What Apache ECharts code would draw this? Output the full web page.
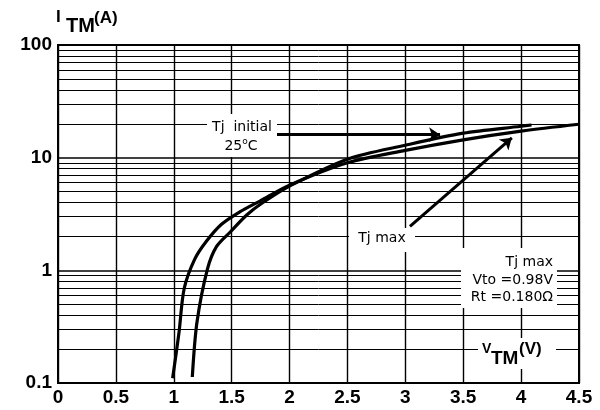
<!DOCTYPE html>
<html><head><meta charset="utf-8">
<script src="https://cdn.jsdelivr.net/npm/echarts@6/dist/echarts.min.js"></script>
<style>html,body{margin:0;padding:0;background:#fff}#c{width:600px;height:410px}</style>
</head><body><div id="c"></div>
<script>
// Tj max curve (V_TM in V, I_TM in A)
const tjMaxV = [0.99, 1.045, 1.09, 1.18, 1.28, 1.41, 1.57, 1.74, 2.0, 2.5, 3.0, 3.5, 4.0, 4.5];
const tjMaxI = [0.11, 0.28, 0.69, 1.25, 1.8, 2.55, 3.3, 4.1, 5.7, 9.0, 11.6, 14.4, 17.2, 19.8];
// Tj initial 25°C curve
const tj25V = [1.16, 1.2, 1.29, 1.37, 1.49, 1.63, 1.77, 2.0, 2.5, 3.0, 3.5, 4.0, 4.09];
const tj25I = [0.113, 0.344, 1.02, 1.63, 2.2, 3.1, 4.0, 5.6, 9.7, 12.9, 16.5, 19.0, 19.5];
// minor log grid values
const minorY = [0.2,0.3,0.4,0.5,0.6,0.7,0.8,0.9, 2,3,4,5,6,7,8,9, 20,30,40,50,60,70,80,90];
// arrow annotations [from, to]
const arrow25 = [[1.87, 16], [3.30, 16]];
const arrowMax = [[3.04, 2.45], [3.92, 15]];

const F = 'Liberation Sans';
const FA = 'DejaVu Sans';
const chart = echarts.init(document.getElementById('c'), null, {renderer:'canvas'});
const zip = (a,b) => a.map((v,i)=>[v,b[i]]);
const txt = (x, y, text, size, bold, align, extra) => Object.assign({
  type:'text', z:100, x:x, y:y,
  style:Object.assign({text:text, fontSize:size, fontWeight:bold?'bold':'normal', fontFamily:bold?F:FA,
    fill:'#000', align:align||'left', verticalAlign:'middle'}, extra||{})});

const option = {
  animation:false,
  backgroundColor:'#fff',
  grid:{left:58,right:21,top:45,bottom:27,show:true,borderColor:'#000',borderWidth:2,backgroundColor:'transparent'},
  xAxis:{type:'value',min:0,max:4.5,interval:0.5,
    axisLine:{show:true,lineStyle:{color:'#000',width:2}},
    axisTick:{show:false},
    axisLabel:{color:'#000',fontFamily:F,fontWeight:'bold',fontSize:19,margin:5,formatter:v=>String(v)},
    splitLine:{show:true,lineStyle:{color:'#000',width:1.4}}},
  yAxis:{type:'log',logBase:10,min:0.1,max:100,
    axisLine:{show:true,lineStyle:{color:'#000',width:2}},
    axisTick:{show:false},
    axisLabel:{color:'#000',fontFamily:F,fontWeight:'bold',fontSize:19,margin:6,formatter:v=>String(v)},
    splitLine:{show:true,lineStyle:{color:'#000',width:1.6}}},
  series:[
    {type:'line',data:[],z:1,silent:true,
     markLine:{silent:true,symbol:'none',label:{show:false},animation:false,
       lineStyle:{color:'#000',width:1,type:'solid'},
       data:minorY.map(v=>({yAxis:v}))}},
    {type:'line',data:zip(tjMaxV,tjMaxI),showSymbol:false,smooth:0.3,z:5,
     lineStyle:{color:'#000',width:3.2}},
    {type:'line',data:zip(tj25V,tj25I),showSymbol:false,smooth:0.3,z:5,
     lineStyle:{color:'#000',width:3.2}},
    {type:'line',data:[],z:6,silent:true,
     markLine:{silent:true,symbol:['none','arrow'],symbolSize:11,label:{show:false},animation:false,
       lineStyle:{color:'#000',width:3,type:'solid'},
       data:[[{coord:arrow25[0]},{coord:arrow25[1]}],[{coord:arrowMax[0]},{coord:arrowMax[1]}]]}}
  ],
  graphic:[
    // axis titles
    txt(56, 17, 'I', 17, true),
    txt(66, 26, 'TM', 20, true),
    txt(94, 18, '(A)', 17, true),
    {type:'rect',z:99,shape:{x:478,y:338,width:78,height:31},style:{fill:'#fff'}},
    txt(482, 349, 'V', 14, true),
    txt(491, 359, 'TM', 19, true),
    txt(519, 349, '(V)', 17, true),
    // Tj initial label
    {type:'rect',z:99,shape:{x:207,y:114,width:70,height:43},style:{fill:'#fff'}},
    txt(242, 127, 'Tj  initial', 14, false, 'center'),
    txt(241, 146, '25{s|o}C', 14, false, 'center', {rich:{s:{fontSize:9, fontFamily:FA, fill:'#000', padding:[0,0,9,0]}}}),
    // Tj max label
    {type:'rect',z:99,shape:{x:349,y:228,width:66,height:24},style:{fill:'#fff'}},
    txt(382, 238, 'Tj max', 14, false, 'center'),
    // parameter box
    {type:'rect',z:99,shape:{x:461,y:248,width:96,height:60},style:{fill:'#fff'}},
    txt(553, 262, 'Tj max', 14, false, 'right'),
    txt(553, 280, 'Vto =0.98V', 14, false, 'right'),
    txt(553, 297, 'Rt =0.180\u03A9', 14, false, 'right')
  ]
};
chart.setOption(option);
</script></body></html>
